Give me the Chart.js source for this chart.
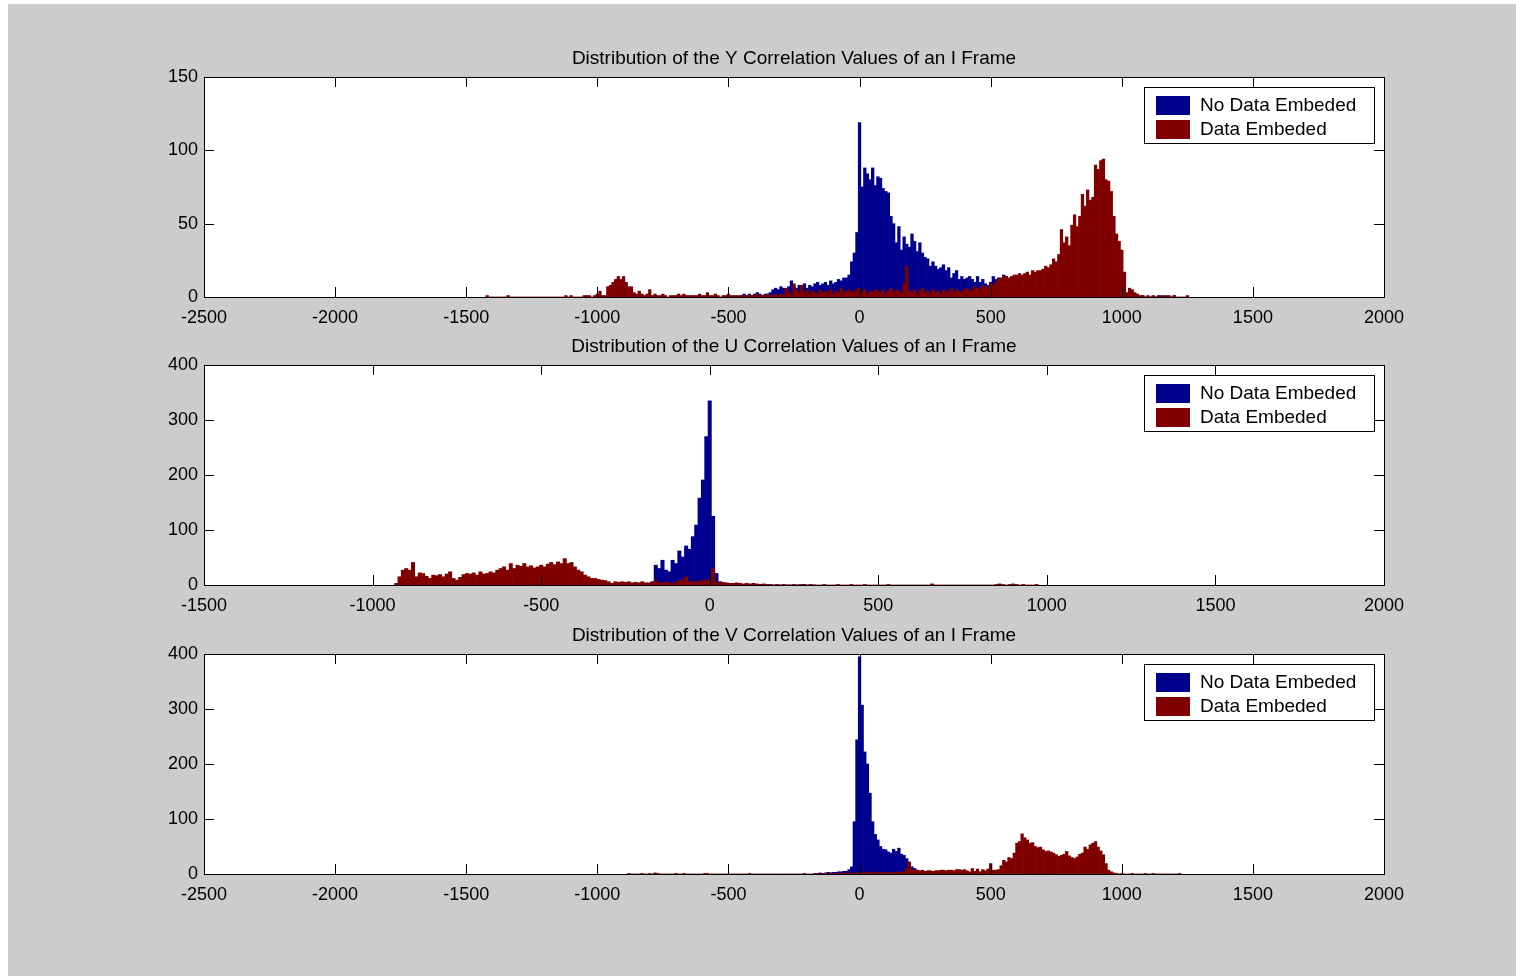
<!DOCTYPE html>
<html>
<head>
<meta charset="utf-8">
<script src="https://cdn.jsdelivr.net/npm/chart.js@4.4.0/dist/chart.umd.min.js"></script>
<style>
  html, body { margin: 0; padding: 0; background: #fff; }
  #figure { position: absolute; left: 8px; top: 4px; width: 1508px; height: 972px; background: #cccccc; }
  canvas.panel { position: absolute; left: 0; }
</style>
</head>
<body>
<div id="figure"></div>
<canvas id="plotY" class="panel" width="1516" height="340" style="top:0px"></canvas>
<canvas id="plotU" class="panel" width="1516" height="340" style="top:288px"></canvas>
<canvas id="plotV" class="panel" width="1516" height="340" style="top:577px"></canvas>
<script>
// histogram bins are 10 wide, each list starts at the given bin centre
const BIN = 10;
const seriesLabels = ['No Data Embeded', 'Data Embeded'];
const titles = [
  'Distribution of the Y Correlation Values of an I Frame',
  'Distribution of the U Correlation Values of an I Frame',
  'Distribution of the V Correlation Values of an I Frame'
];
const xTicksWide = [-2500, -2000, -1500, -1000, -500, 0, 500, 1000, 1500, 2000];
const xTicksU = [-1500, -1000, -500, 0, 500, 1000, 1500, 2000];
const yTicksY = [0, 50, 100, 150];
const yTicksUV = [0, 100, 200, 300, 400];

// Y channel
const yNoStart = -450;
const yNo = [
  1, 2, 1, 2, 1, 2, 3, 2, 1, 2,
  2, 3, 5, 6, 5, 7, 6, 5, 7, 11,
  7, 6, 8, 7, 9, 6, 8, 7, 9, 10,
  8, 9, 10, 8, 11, 9, 10, 12, 11, 13,
  13, 15, 24, 30, 44, 119, 75, 88, 84, 80,
  88, 76, 82, 81, 74, 72, 71, 55, 50, 37,
  48, 32, 41, 36, 34, 43, 38, 31, 37, 30,
  27, 26, 21, 24, 21, 19, 20, 22, 18, 20,
  13, 16, 18, 12, 14, 12, 13, 14, 12, 10,
  14, 10, 12, 9, 8, 10, 14, 12, 13, 11,
  15, 14, 12, 10, 9, 8, 7, 6, 5, 5,
  4, 4, 3, 3, 3, 2, 2, 2, 2, 1,
  1, 1, 1, 1, 1, 0, 1, 0, 1, 0,
  0, 1, 0, 0, 1, 0, 0, 0, 1, 0,
  0, 0, 1, 0, 0, 0, 0, 1, 0, 0,
  1, 0, 0, 1, 0, 0, 0, 0, 0, 1,
  0, 1, 0, 0, 0, 1
];
const yDataStart = -1420;
const yData = [
  1, 0, 0, 0, 0, 0, 0, 0, 1, 0,
  0, 0, 0, 0, 0, 0, 0, 0, 0, 0,
  0, 0, 0, 0, 0, 0, 0, 0, 0, 0,
  1, 0, 1, 0, 0, 0, 0, 1, 1, 1,
  0, 1, 2, 4, 1, 1, 7, 8, 10, 12,
  14, 12, 14, 10, 7, 7, 3, 2, 4, 2,
  1, 2, 5, 1, 2, 1, 1, 2, 1, 0,
  1, 1, 1, 2, 1, 2, 1, 1, 1, 1,
  1, 2, 1, 1, 3, 1, 1, 2, 1, 0,
  1, 1, 2, 1, 1, 1, 1, 0, 1, 1,
  1, 1, 1, 2, 1, 1, 1, 2, 1, 1,
  2, 1, 2, 1, 6, 3, 2, 9, 5, 3,
  8, 3, 5, 2, 4, 3, 2, 5, 3, 4,
  3, 5, 2, 4, 3, 6, 3, 4, 5, 3,
  4, 5, 6, 3, 5, 2, 4, 3, 5, 4,
  3, 5, 2, 4, 6, 3, 5, 4, 3, 9,
  21, 4, 3, 5, 2, 4, 6, 3, 4, 2,
  5, 3, 4, 2, 5, 3, 4, 6, 3, 5,
  4, 3, 5, 6, 4, 5, 7, 6, 5, 8,
  7, 6, 9, 8, 10, 12, 13, 14, 14, 13,
  14, 15, 15, 16, 15, 16, 17, 15, 18, 17,
  18, 18, 19, 21, 20, 22, 26, 24, 29, 46,
  37, 41, 35, 49, 56, 48, 55, 70, 62, 73,
  66, 68, 90, 87, 93, 94, 80, 79, 72, 55,
  43, 38, 32, 17, 3, 6, 5, 3, 2, 1,
  1, 0, 1, 0, 1, 0, 0, 1, 0, 1,
  1, 0, 1, 0, 0, 0, 0, 1
];

// U channel
const uNoStart = -180;
const uNo = [
  3, 6, 36, 30, 45, 27, 24, 45, 39, 62,
  51, 71, 65, 88, 109, 158, 191, 270, 335, 125,
  21, 6, 4, 3, 2, 2, 1, 2, 1, 1,
  1, 1, 0, 1, 0, 0, 0, 0, 0, 0,
  0, 0, 0, 0, 0, 0, 1, 0, 0, 0
];
const uDataStart = -930;
const uData = [
  3, 15, 27, 30, 27, 41, 15, 22, 21, 16,
  12, 18, 17, 19, 15, 20, 24, 12, 9, 14,
  19, 21, 20, 22, 18, 24, 20, 21, 24, 22,
  27, 30, 33, 27, 39, 30, 36, 34, 39, 33,
  35, 31, 33, 36, 33, 38, 41, 37, 42, 39,
  48, 39, 41, 33, 27, 24, 18, 15, 12, 12,
  10, 9, 8, 6, 3, 6, 5, 6, 5, 6,
  4, 5, 4, 6, 4, 4, 5, 8, 4, 4,
  5, 4, 3, 4, 8, 9, 15, 6, 7, 6,
  6, 9, 8, 10, 30, 6, 4, 5, 4, 3,
  3, 4, 3, 2, 3, 2, 3, 2, 1, 2,
  1, 1, 0, 1, 0, 1, 0, 0, 1, 0,
  1, 0, 0, 1, 0, 0, 0, 1, 0, 0,
  0, 1, 0, 0, 0, 1, 0, 0, 0, 1,
  0, 0, 0, 0, 0, 0, 1, 0, 0, 0,
  0, 0, 0, 0, 0, 0, 0, 0, 0, 2,
  0, 0, 0, 0, 0, 0, 0, 0, 0, 0,
  0, 0, 0, 0, 0, 0, 0, 0, 1, 2,
  1, 0, 1, 2, 1, 0, 1, 0, 0, 0,
  1
];

// V channel
const vNoStart = -170;
const vNo = [
  1, 1, 2, 1, 2, 3, 2, 3, 3, 4,
  4, 5, 5, 8, 13, 95, 244, 395, 307, 222,
  200, 147, 95, 72, 62, 50, 45, 44, 40, 38,
  45, 41, 47, 36, 34, 28, 19, 13, 10, 7,
  5, 4, 3, 2, 2, 2, 1, 2, 1, 2,
  1, 2, 1, 1, 1, 2, 1, 1, 0, 1
];
const vDataStart = -880;
const vData = [
  1, 0, 0, 0, 0, 1, 0, 0, 1, 0,
  2, 1, 0, 0, 0, 0, 0, 0, 1, 0,
  0, 1, 0, 0, 0, 0, 0, 0, 0, 1,
  1, 0, 0, 0, 0, 0, 0, 0, 0, 0,
  0, 0, 0, 0, 0, 0, 1, 0, 0, 0,
  0, 0, 0, 0, 0, 0, 0, 0, 0, 0,
  0, 0, 0, 0, 0, 0, 0, 1, 0, 0,
  0, 0, 1, 0, 1, 1, 0, 2, 1, 1,
  1, 2, 1, 2, 1, 2, 1, 2, 2, 3,
  2, 3, 4, 2, 3, 2, 3, 2, 3, 2,
  3, 2, 3, 4, 3, 4, 10, 22, 8, 7,
  7, 6, 7, 5, 6, 6, 5, 6, 6, 7,
  7, 6, 7, 7, 6, 8, 8, 7, 8, 6,
  4, 10, 5, 9, 4, 8, 6, 9, 19, 7,
  7, 8, 15, 25, 22, 30, 28, 38, 56, 59,
  73, 66, 62, 56, 57, 50, 48, 49, 44, 41,
  42, 40, 38, 35, 32, 34, 36, 41, 33, 30,
  28, 31, 36, 38, 49, 45, 53, 56, 59, 49,
  42, 35, 19, 7, 4, 2, 1, 0, 1, 0,
  0, 0, 1, 0, 0, 0, 0, 1, 0, 0,
  1, 0, 0, 0, 0, 0, 0, 0, 0, 0, 1
];

const BLUE = '#00008f';
const RED = '#800000';
const FAMILY = '"Liberation Sans", Arial, sans-serif';
const FONT = { family: FAMILY, size: 18 };
const TEXT_SIZE = 19;
const TICK = 10;

function toPoints(start, values) {
  return values.map((v, i) => ({ x: start + i * BIN, y: v }));
}

const plotBackground = {
  id: 'plotBackground',
  beforeDatasetsDraw(chart) {
    const { ctx, chartArea: a } = chart;
    ctx.save();
    ctx.fillStyle = '#fff';
    ctx.fillRect(a.left, a.top, a.right - a.left, a.bottom - a.top);
    ctx.restore();
  }
};

// matlab style box with inward ticks on all four sides
const boxTicks = {
  id: 'boxTicks',
  afterDatasetsDraw(chart) {
    const { ctx, chartArea: a, scales: { x, y } } = chart;
    ctx.save();
    ctx.strokeStyle = '#000';
    ctx.lineWidth = 1;
    ctx.beginPath();
    x.ticks.forEach(t => {
      const px = Math.round(x.getPixelForValue(t.value)) + 0.5;
      ctx.moveTo(px, a.bottom); ctx.lineTo(px, a.bottom - TICK);
      ctx.moveTo(px, a.top); ctx.lineTo(px, a.top + TICK);
    });
    y.ticks.forEach(t => {
      const py = Math.round(y.getPixelForValue(t.value)) + 0.5;
      ctx.moveTo(a.left, py); ctx.lineTo(a.left + TICK, py);
      ctx.moveTo(a.right, py); ctx.lineTo(a.right - TICK, py);
    });
    ctx.stroke();
    ctx.strokeRect(Math.round(a.left) + 0.5, Math.round(a.top) + 0.5,
      Math.round(a.right - a.left), Math.round(a.bottom - a.top));
    ctx.restore();
  }
};

const boxLegend = {
  id: 'boxLegend',
  afterDraw(chart) {
    const { ctx, chartArea: a } = chart;
    const w = 230, h = 56;
    const left = Math.round(a.right) - 10 - w;
    const top = Math.round(a.top) + 10;
    ctx.save();
    ctx.fillStyle = '#fff';
    ctx.fillRect(left, top, w, h);
    ctx.strokeStyle = '#000';
    ctx.lineWidth = 1;
    ctx.strokeRect(left + 0.5, top + 0.5, w, h);
    ctx.font = `${TEXT_SIZE}px ${FAMILY}`;
    ctx.textBaseline = 'middle';
    ctx.textAlign = 'left';
    seriesLabels.forEach((label, i) => {
      const cy = top + 18 + i * 24;
      ctx.fillStyle = i === 0 ? BLUE : RED;
      ctx.fillRect(left + 12, cy - 9, 34, 19);
      ctx.fillStyle = '#000';
      ctx.fillText(label, left + 56, cy + 1);
    });
    ctx.restore();
  }
};

function makePlot(id, title, noStart, noVals, dataStart, dataVals, xMin, xMax, xTicks, yMax, yTicks) {
  return new Chart(document.getElementById(id), {
    type: 'bar',
    data: {
      datasets: [
        { label: seriesLabels[0], data: toPoints(noStart, noVals), backgroundColor: BLUE,
          grouped: false, order: 1, borderWidth: 0, barPercentage: 1, categoryPercentage: 1 },
        { label: seriesLabels[1], data: toPoints(dataStart, dataVals), backgroundColor: RED,
          grouped: false, order: 0, borderWidth: 0, barPercentage: 1, categoryPercentage: 1 }
      ]
    },
    options: {
      responsive: false,
      animation: false,
      layout: { padding: { left: 144, right: 132, top: 0, bottom: 10 } },
      scales: {
        x: {
          type: 'linear', min: xMin, max: xMax, offset: false,
          grid: { display: false, drawTicks: false },
          border: { display: false },
          afterBuildTicks: s => { s.ticks = xTicks.map(v => ({ value: v })); },
          afterFit: s => { s.height = 33; },
          ticks: { color: '#000', font: FONT, padding: 10, maxRotation: 0, autoSkip: false,
            callback: v => String(v) }
        },
        y: {
          min: 0, max: yMax,
          grid: { display: false, drawTicks: false },
          border: { display: false },
          afterBuildTicks: s => { s.ticks = yTicks.map(v => ({ value: v })); },
          afterFit: s => { s.width = 60; },
          ticks: { color: '#000', font: FONT, padding: 6, callback: v => String(v) }
        }
      },
      plugins: {
        legend: { display: false },
        tooltip: { enabled: false },
        title: { display: true, text: title, color: '#000', fullSize: false,
          font: { family: FAMILY, size: TEXT_SIZE, weight: 'normal', lineHeight: 1.2 },
          padding: { top: 47, bottom: 7.2 } }
      }
    },
    plugins: [plotBackground, boxTicks, boxLegend]
  });
}

makePlot('plotY', titles[0], yNoStart, yNo, yDataStart, yData, -2500, 2000, xTicksWide, 150, yTicksY);
makePlot('plotU', titles[1], uNoStart, uNo, uDataStart, uData, -1500, 2000, xTicksU, 400, yTicksUV);
makePlot('plotV', titles[2], vNoStart, vNo, vDataStart, vData, -2500, 2000, xTicksWide, 400, yTicksUV);
</script>
</body>
</html>
